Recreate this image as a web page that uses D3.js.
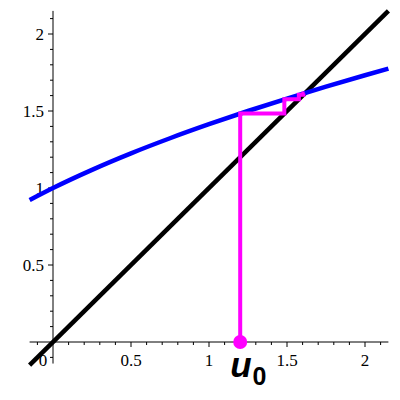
<!DOCTYPE html>
<html>
<head>
<meta charset="utf-8">
<script src="https://cdn.jsdelivr.net/npm/d3@7"></script>
<style>
  body { margin: 0; background: #fff; }
</style>
</head>
<body>
<div id="chart"></div>
<script>
// values
const curveX = [-0.15, 0, 0.25, 0.5, 0.75, 1.0, 1.25, 1.5, 1.75, 2.0, 2.15];
const curveY = [0.922, 1.0, 1.118, 1.225, 1.323, 1.414, 1.5, 1.581, 1.658, 1.732, 1.775];
const diagX = [-0.15, 2.15];
const iterU = [1.2, 1.483, 1.576, 1.605, 1.613];
const tickVals = [0.5, 1, 1.5, 2];
const tickLabs = ["0.5", "1", "1.5", "2"];
const minorVals = d3.range(-1, 22).map(i => i / 10);

const colorpel = { curve: "#0000ff", diag: "#000000", web: "#ff00ff", axis: "#000000" };
const serif = "'Liberation Serif', 'Times New Roman', 'DejaVu Serif', serif";

let width = 400, height = 400;

let x = d3.scaleLinear().domain([0, 2]).range([53, 365]);
let y = d3.scaleLinear().domain([0, 2]).range([342, 34]);

let svg = d3.select("#chart").append("svg")
    .attr("width", width).attr("height", height);

// axes
let g_axis = svg.append("g").attr("class", "axes")
g_axis.append("line")
    .attr("x1", x(-0.15)).attr("x2", x(2.15))
    .attr("y1", y(0)).attr("y2", y(0))
    .attr("stroke", colorpel.axis).attr("stroke-width", 1)
g_axis.append("line")
    .attr("x1", x(0)).attr("x2", x(0))
    .attr("y1", y(-0.14)).attr("y2", y(2.15))
    .attr("stroke", colorpel.axis).attr("stroke-width", 1)

const isMajor = v => Math.abs(v * 2 - Math.round(v * 2)) < 1e-6 && Math.abs(v) > 1e-6

// minor + major ticks
let tks = minorVals.filter(v => v >= -0.1 && v <= 2.1 && Math.abs(v) > 1e-6)
g_axis.selectAll(".xt").data(tks)
    .enter().append("line").attr("class", "xt")
    .attr("x1", d => x(d)).attr("x2", d => x(d))
    .attr("y1", y(0)).attr("y2", d => y(0) + (isMajor(d) ? 5 : 3))
    .attr("stroke", colorpel.axis).attr("stroke-width", 1)

g_axis.selectAll(".yt").data(tks)
    .enter().append("line").attr("class", "yt")
    .attr("y1", d => y(d)).attr("y2", d => y(d))
    .attr("x1", x(0)).attr("x2", d => x(0) - (isMajor(d) ? 5 : 3))
    .attr("stroke", colorpel.axis).attr("stroke-width", 1)

// tick labels
g_axis.selectAll(".xl").data(tickVals).enter().append("text")
    .attr("class", "xl")
    .attr("font-family", serif).attr("font-size", 17)
    .attr("x", d => x(d)).attr("y", y(0) + 24)
    .attr("text-anchor", "middle")
    .text((d, i) => tickLabs[i])
g_axis.append("text")
    .attr("font-family", serif).attr("font-size", 17)
    .attr("x", x(0) - 10).attr("y", y(0) + 24)
    .attr("text-anchor", "middle").text("0")

g_axis.selectAll(".yl").data(tickVals).enter().append("text")
    .attr("class", "yl")
    .attr("font-family", serif).attr("font-size", 17)
    .attr("x", x(0) - 9).attr("y", d => y(d) + 6)
    .attr("text-anchor", "end")
    .text((d, i) => tickLabs[i])

// y = x
let lineg = d3.line().x(d => x(d[0])).y(d => y(d[1]))
svg.append("path")
    .attr("d", lineg(diagX.map(v => [v, v])))
    .attr("fill", "none").attr("stroke", colorpel.diag).attr("stroke-width", 4.5)

// f curve
svg.append("path")
    .attr("d", d3.line().x(d => x(d[0])).y(d => y(d[1])).curve(d3.curveMonotoneX)(curveX.map((v, i) => [v, curveY[i]])))
    .attr("fill", "none").attr("stroke", colorpel.curve).attr("stroke-width", 4.5)

// cobweb
let web = [[iterU[0], 0]]
iterU.forEach((u, i) => {
    if (i + 1 < iterU.length) {
        web.push([u, iterU[i + 1]])
        web.push([iterU[i + 1], iterU[i + 1]])
    }
})
svg.append("path")
    .attr("d", lineg(web))
    .attr("fill", "none").attr("stroke", colorpel.web).attr("stroke-width", 4)
    .attr("stroke-linejoin", "miter")

svg.append("circle")
    .attr("cx", x(iterU[0])).attr("cy", y(0)).attr("r", 7)
    .attr("fill", colorpel.web)

// u0 label
let lab = svg.append("text")
    .attr("x", x(iterU[0]) - 10).attr("y", 377)
    .attr("font-family", "Liberation Sans, Arial, sans-serif")
    .attr("font-weight", "bold")
lab.append("tspan").attr("font-size", 35).attr("font-style", "italic").text("u")
lab.append("tspan").attr("font-size", 25).attr("dy", 8).attr("dx", 1).text("0")
</script>
</body>
</html>
